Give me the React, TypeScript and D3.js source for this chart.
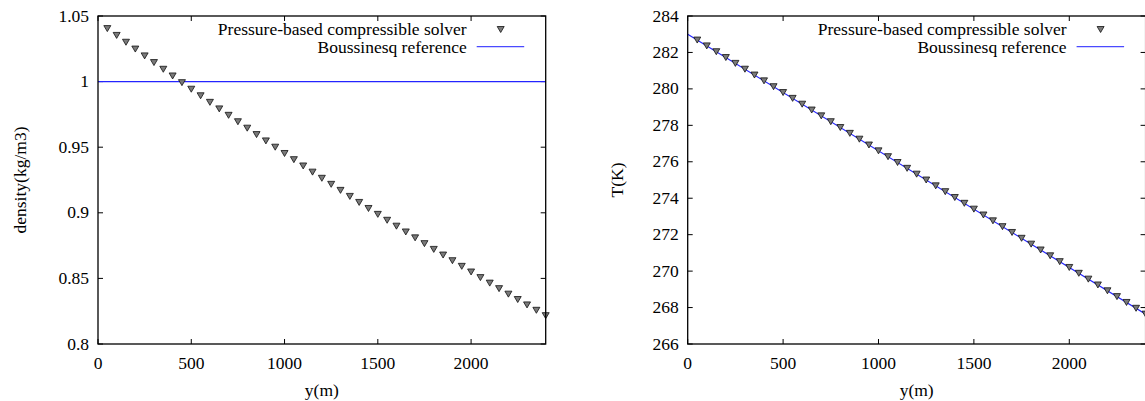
import React, { useEffect, useRef } from "react";
import { select, scaleLinear, line } from "d3";

// heights (m) of the sampled cells
const heights = [
  50, 100, 150, 200, 250, 300, 350, 400, 450, 500, 550, 600, 650, 700, 750, 800,
  850, 900, 950, 1000, 1050, 1100, 1150, 1200, 1250, 1300, 1350, 1400, 1450,
  1500, 1550, 1600, 1650, 1700, 1750, 1800, 1850, 1900, 1950, 2000, 2050, 2100,
  2150, 2200, 2250, 2300, 2350, 2400,
];

// pressure-based compressible solver
const density = [
  1.0404, 1.0352, 1.03, 1.0248, 1.0196, 1.0145, 1.0094, 1.0043, 0.9992, 0.9942,
  0.9892, 0.9842, 0.9792, 0.9743, 0.9694, 0.9645, 0.9596, 0.9548, 0.95, 0.9452,
  0.9405, 0.9357, 0.931, 0.9263, 0.9217, 0.9171, 0.9125, 0.9079, 0.9033, 0.8988,
  0.8943, 0.8898, 0.8854, 0.8809, 0.8765, 0.8721, 0.8678, 0.8635, 0.8592,
  0.8549, 0.8506, 0.8464, 0.8422, 0.838, 0.8339, 0.8298, 0.8257, 0.8216,
];
const temperature = [
  282.68, 282.36, 282.04, 281.72, 281.4, 281.08, 280.76, 280.44, 280.12, 279.8,
  279.48, 279.16, 278.84, 278.52, 278.2, 277.88, 277.56, 277.24, 276.92, 276.6,
  276.28, 275.96, 275.64, 275.32, 275.0, 274.68, 274.36, 274.04, 273.72, 273.4,
  273.08, 272.76, 272.44, 272.12, 271.8, 271.48, 271.16, 270.84, 270.52, 270.2,
  269.88, 269.56, 269.24, 268.92, 268.6, 268.28, 267.96, 267.64,
];

// Boussinesq reference
const refHeights = [0, 2400];
const refDensity = [1, 1];
const refTemperature = [283.0, 267.64];

const xTicks = [0, 500, 1000, 1500, 2000];
const densityTicks = [0.8, 0.85, 0.9, 0.95, 1, 1.05];
const temperatureTicks = [266, 268, 270, 272, 274, 276, 278, 280, 282, 284];

const FONT = "'Liberation Serif', 'Times New Roman', serif";
const TOP = 16;
const BOTTOM = 344;
const TICK = 5;

function drawPanel(svg, opts) {
  const { left, right, yDomain, yTicks, yLabel, yLabelX, values, refValues } =
    opts;
  const x = scaleLinear().domain([0, 2400]).range([left, right]);
  const y = scaleLinear().domain(yDomain).range([BOTTOM, TOP]);
  const g = svg.append("g").attr("font-family", FONT).attr("font-size", 17.5);

  // ticks, inward on all four sides
  g.selectAll(".xt")
    .data(xTicks)
    .join("path")
    .attr("d", (d) => {
      const px = x(d);
      return `M${px},${BOTTOM}v${-TICK}M${px},${TOP}v${TICK}`;
    })
    .attr("stroke", "#000")
    .attr("stroke-width", 1);
  g.selectAll(".yt")
    .data(yTicks)
    .join("path")
    .attr("d", (d) => {
      const py = y(d);
      return `M${left},${py}h${TICK}M${right},${py}h${-TICK}`;
    })
    .attr("stroke", "#000")
    .attr("stroke-width", 1);

  g.selectAll(".xl")
    .data(xTicks)
    .join("text")
    .attr("x", (d) => x(d))
    .attr("y", 368.5)
    .attr("text-anchor", "middle")
    .text((d) => d);
  g.selectAll(".yl")
    .data(yTicks)
    .join("text")
    .attr("x", left - 9)
    .attr("y", (d) => y(d) + 5.5)
    .attr("text-anchor", "end")
    .text((d) => String(d));

  g.append("text")
    .attr("x", (left + right) / 2)
    .attr("y", 395.5)
    .attr("text-anchor", "middle")
    .text("y(m)");
  g.append("text")
    .attr("transform", `translate(${yLabelX},${(TOP + BOTTOM) / 2}) rotate(-90)`)
    .attr("text-anchor", "middle")
    .attr("dominant-baseline", "central")
    .text(yLabel);

  // reference line
  const refLine = line()
    .x((d) => x(d[0]))
    .y((d) => y(d[1]));
  g.append("path")
    .attr("d", refLine(refHeights.map((h, i) => [h, refValues[i]])))
    .attr("fill", "none")
    .attr("stroke", "#2424ff")
    .attr("stroke-width", 1.2);

  // solver points
  const tri = (cx, cy) =>
    `M${cx - 3.5},${cy - 3}L${cx + 3.5},${cy - 3}L${cx},${cy + 3}Z`;
  g.selectAll(".pt")
    .data(heights.map((h, i) => [h, values[i]]))
    .join("path")
    .attr("d", (d) => tri(x(d[0]), y(d[1])))
    .attr("fill", "#7a7a7a")
    .attr("stroke", "#111")
    .attr("stroke-width", 0.8);

  // frame
  g.append("rect")
    .attr("x", left)
    .attr("y", TOP)
    .attr("width", right - left)
    .attr("height", BOTTOM - TOP)
    .attr("fill", "none")
    .attr("stroke", "#000")
    .attr("stroke-width", 1.3);

  // key
  g.append("text")
    .attr("x", right - 79)
    .attr("y", 35)
    .attr("text-anchor", "end")
    .text("Pressure-based compressible solver");
  g.append("path")
    .attr("d", tri(right - 45, 29.5))
    .attr("fill", "#7a7a7a")
    .attr("stroke", "#111")
    .attr("stroke-width", 0.8);
  g.append("text")
    .attr("x", right - 79)
    .attr("y", 53)
    .attr("text-anchor", "end")
    .text("Boussinesq reference");
  g.append("path")
    .attr("d", `M${right - 69},46.7H${right - 21.5}`)
    .attr("stroke", "#4a4aff")
    .attr("stroke-width", 1.2);
}

const App = () => {
  const ref = useRef(null);

  useEffect(() => {
    const svg = select(ref.current);
    svg.selectAll("*").remove();
    drawPanel(svg, {
      left: 98,
      right: 545.7,
      yDomain: [0.8, 1.05],
      yTicks: densityTicks,
      yLabel: "density(kg/m3)",
      yLabelX: 20,
      values: density,
      refValues: refDensity,
    });
    drawPanel(svg, {
      left: 687.7,
      right: 1145.6,
      yDomain: [266, 284],
      yTicks: temperatureTicks,
      yLabel: "T(K)",
      yLabelX: 617,
      values: temperature,
      refValues: refTemperature,
    });
  }, []);

  return (
    <svg
      ref={ref}
      width={1145}
      height={401}
      style={{ position: "absolute", left: 0, top: 0, background: "#fff" }}
    />
  );
};

export default App;
